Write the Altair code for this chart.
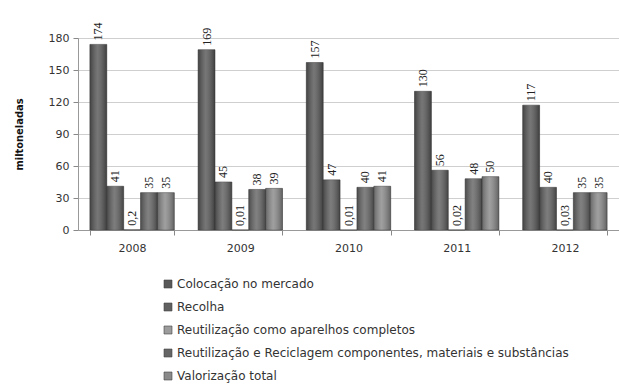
import altair as alt
import pandas as pd

# Anos e séries (mil toneladas)
anos = ["2008", "2009", "2010", "2011", "2012"]
series = [
    "Colocação no mercado",
    "Recolha",
    "Reutilização como aparelhos completos",
    "Reutilização e Reciclagem componentes, materiais e substâncias",
    "Valorização total",
]
colocacao = [174, 169, 157, 130, 117]
recolha = [41, 45, 47, 56, 40]
reutilizacao_aparelhos = [0.2, 0.01, 0.01, 0.02, 0.03]
reutilizacao_reciclagem = [35, 38, 40, 48, 35]
valorizacao = [35, 39, 41, 50, 35]
cores = ["#585858", "#606060", "#9c9c9c", "#656565", "#8a8a8a"]

valores = [colocacao, recolha, reutilizacao_aparelhos, reutilizacao_reciclagem, valorizacao]
rows = []
for s, vals in zip(series, valores):
    for a, v in zip(anos, vals):
        rows.append({"ano": a, "serie": s, "valor": v})
df = pd.DataFrame(rows)

x = alt.X("ano:N", title=None, sort=anos,
          scale=alt.Scale(paddingInner=0.22, paddingOuter=0.11),
          axis=alt.Axis(labelAngle=0, labelFont="DejaVu Sans", labelFontSize=11,
                        labelColor="#333", labelPadding=7, tickBand="extent",
                        tickSize=5, tickColor="#888", domainColor="#999"))
xoff = alt.XOffset("serie:N", sort=series, scale=alt.Scale(paddingInner=0))
y = alt.Y("valor:Q", title="miltoneladas",
          scale=alt.Scale(domain=[0, 180], nice=False),
          axis=alt.Axis(values=[0, 30, 60, 90, 120, 150, 180], labelFont="DejaVu Sans",
                        labelFontSize=11, labelColor="#333", labelPadding=4,
                        tickSize=5, tickColor="#888", domainColor="#999",
                        gridColor="#cfcfcf", titleFont="DejaVu Sans Condensed",
                        titleFontSize=11, titleFontWeight="bold", titleColor="#111",
                        titlePadding=24))

base = alt.Chart(df).encode(x=x, xOffset=xoff, y=y)

barras = base.mark_bar(stroke="#444", strokeWidth=0.6).encode(
    color=alt.Color("serie:N", sort=series,
                    scale=alt.Scale(domain=series, range=cores),
                    legend=alt.Legend(title=None, orient="none", legendX=84, legendY=240,
                                      direction="vertical", symbolType="square",
                                      symbolSize=64, symbolStrokeColor="#444",
                                      symbolStrokeWidth=0.6, labelFont="DejaVu Sans",
                                      labelFontSize=12, labelColor="#333",
                                      rowPadding=11, labelLimit=500, labelOffset=3))
)

# brilho cilíndrico sobre as barras
brilho = base.mark_bar(
    fill=alt.Gradient(
        gradient="linear", x1=0, x2=1, y1=0, y2=0,
        stops=[alt.GradientStop(color="rgba(0,0,0,0.25)", offset=0),
               alt.GradientStop(color="rgba(255,255,255,0.18)", offset=0.45),
               alt.GradientStop(color="rgba(0,0,0,0.3)", offset=1)]
    )
)

rotulos = base.transform_calculate(
    rotulo="replace(toString(datum.valor), '.', ',')"
).mark_text(angle=270, align="left", baseline="middle", dx=4,
            font="Liberation Serif", fontSize=12, color="#222").encode(
    text="rotulo:N"
)

chart = alt.layer(barras, brilho, rotulos).properties(
    width=541, height=192,
    autosize=alt.AutoSizeParams(type="none"),
    padding={"left": 78, "top": 38, "right": 0, "bottom": 155},
).configure_view(stroke=None).configure(background="white")

chart.save("out.html", embed_options={"renderer": "svg", "actions": False})
